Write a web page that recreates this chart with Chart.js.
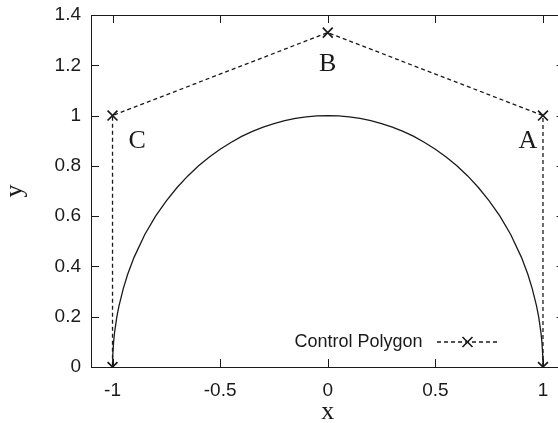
<!DOCTYPE html>
<html><head><meta charset="utf-8">
<script src="https://cdn.jsdelivr.net/npm/chart.js@4/dist/chart.umd.min.js"></script>
<style>
html,body{margin:0;padding:0;overflow:hidden;background:#fff;width:558px;height:423px}
#wrap{position:relative;width:580px;height:440px}
</style></head><body>
<div id="wrap"><canvas id="c" width="580" height="440"></canvas></div>
<script>
// ---- data ----
const curveX = [-1,-0.999,-0.995,-0.99,-0.98,-0.97,-0.95,-0.93,-0.9,-0.85,-0.8,-0.75,-0.7,-0.65,-0.6,-0.55,-0.5,-0.45,-0.4,-0.35,-0.3,-0.25,-0.2,-0.15,-0.1,-0.05,0,
  0.05,0.1,0.15,0.2,0.25,0.3,0.35,0.4,0.45,0.5,0.55,0.6,0.65,0.7,0.75,0.8,0.85,0.9,0.93,0.95,0.97,0.98,0.99,0.995,0.999,1];
const curveY = [0,0.045,0.100,0.141,0.199,0.243,0.312,0.368,0.436,0.527,0.600,0.661,0.714,0.760,0.800,0.835,0.866,0.893,0.917,0.937,0.954,0.968,0.980,0.989,0.995,0.999,1.000,
  0.999,0.995,0.989,0.980,0.968,0.954,0.937,0.917,0.893,0.866,0.835,0.800,0.760,0.714,0.661,0.600,0.527,0.436,0.368,0.312,0.243,0.199,0.141,0.100,0.045,0];
const polyX = [1,1,0,-1,-1];
const polyY = [0,1,1.33,1,0];
const pointLabels = ['A','B','C'];
const pointLabelX = [0.93,0,-0.886];
const pointLabelY = [0.9,1.205,0.9];
const xTicks = [-1,-0.5,0,0.5,1];
const xTickLabels = ['-1','-0.5','0','0.5','1'];
const yTicks = [0,0.2,0.4,0.6,0.8,1,1.2,1.4];
const yTickLabels = ['0','0.2','0.4','0.6','0.8','1','1.2','1.4'];
const legendLabel = 'Control Polygon';

const INK = '#1a1a1a';
const toPts = (xs, ys) => xs.map((x,i)=>({x:x,y:ys[i]}));

const framePlugin = {
  id:'frame',
  afterDatasetsDraw(chart){
    const {ctx, chartArea:a, scales} = chart;
    ctx.save();
    ctx.strokeStyle = INK; ctx.lineWidth = 1;
    ctx.strokeRect(Math.round(a.left)+0.5, Math.round(a.top)+0.5, Math.round(a.right-a.left), Math.round(a.bottom-a.top));
    const L = 8;
    ctx.beginPath();
    xTicks.forEach(v=>{
      const px = Math.round(scales.x.getPixelForValue(v))+0.5;
      ctx.moveTo(px, a.bottom); ctx.lineTo(px, a.bottom-L);
      ctx.moveTo(px, a.top); ctx.lineTo(px, a.top+L);
    });
    yTicks.forEach(v=>{
      const py = Math.round(scales.y.getPixelForValue(v))+0.5;
      ctx.moveTo(a.left, py); ctx.lineTo(a.left+L, py);
      ctx.moveTo(a.right, py); ctx.lineTo(a.right-L, py);
    });
    ctx.stroke();
    // point labels
    ctx.fillStyle = INK;
    ctx.font = '26px "Liberation Serif", serif';
    ctx.textAlign = 'center'; ctx.textBaseline = 'middle';
    pointLabels.forEach((t,i)=>{
      ctx.fillText(t, scales.x.getPixelForValue(pointLabelX[i]), scales.y.getPixelForValue(pointLabelY[i]));
    });
    // legend (key)
    const ky = a.bottom - 25;
    ctx.font = '18px "Liberation Sans", Arial, sans-serif';
    ctx.textAlign = 'right';
    ctx.fillText(legendLabel, a.right - 142, ky);
    const x0 = a.right - 127.5, x1 = a.right - 66.5, xm = (x0+x1)/2;
    ctx.lineWidth = 1.3;
    ctx.setLineDash([4,3]);
    ctx.beginPath(); ctx.moveTo(x0, ky); ctx.lineTo(x1, ky); ctx.stroke();
    ctx.setLineDash([]);
    ctx.lineWidth = 1.6;
    const r = 5;
    ctx.beginPath();
    ctx.moveTo(xm-r, ky-r); ctx.lineTo(xm+r, ky+r);
    ctx.moveTo(xm-r, ky+r); ctx.lineTo(xm+r, ky-r);
    ctx.stroke();
    ctx.restore();
  }
};

new Chart(document.getElementById('c'), {
  type:'scatter',
  data:{datasets:[
    {label:'curve', data:toPts(curveX,curveY), showLine:true, borderColor:INK, borderWidth:1.3, pointRadius:0, tension:0, fill:false},
    {label:legendLabel, data:toPts(polyX,polyY), showLine:true, borderColor:INK, borderWidth:1.3, borderDash:[4,3],
     pointStyle:'crossRot', pointRadius:7, pointBorderWidth:1.7, pointBorderColor:INK, pointBackgroundColor:INK, tension:0, fill:false}
  ]},
  options:{
    responsive:false, animation:false, devicePixelRatio:1,
    layout:{padding:{top:15,right:15.5,left:0,bottom:0}},
    plugins:{legend:{display:false}, tooltip:{enabled:false}},
    scales:{
      x:{type:'linear', min:-1.1, max:1.1,
        afterBuildTicks(s){ s.ticks = xTicks.map(v=>({value:v})); },
        afterFit(s){ s.height = 73; s.paddingLeft = 0; s.paddingRight = 0; },
        grid:{display:false, drawTicks:false}, border:{display:false},
        ticks:{padding:12, color:INK, font:{family:'"Liberation Sans", Arial, sans-serif', size:19},
          callback:(v)=>{const i=xTicks.indexOf(v); return i>=0?xTickLabels[i]:'';}, maxRotation:0, autoSkip:false},
        title:{display:true, text:'x', color:INK, font:{family:'"Liberation Serif", serif', size:26, lineHeight:1.2}, padding:{top:0,bottom:12}}
      },
      y:{type:'linear', min:0, max:1.4,
        afterBuildTicks(s){ s.ticks = yTicks.map(v=>({value:v})); },
        afterFit(s){ s.width = 91; s.paddingTop = 0; s.paddingBottom = 0; },
        grid:{display:false, drawTicks:false}, border:{display:false},
        ticks:{padding:10, color:INK, font:{family:'"Liberation Sans", Arial, sans-serif', size:19},
          callback:(v)=>{const i=yTicks.indexOf(v); return i>=0?yTickLabels[i]:'';}, autoSkip:false},
        title:{display:true, text:'y', color:INK, font:{family:'"Liberation Serif", serif', size:26, lineHeight:1.2}, padding:{top:0,bottom:0}}
      }
    }
  },
  plugins:[framePlugin]
});
</script>
</body></html>
